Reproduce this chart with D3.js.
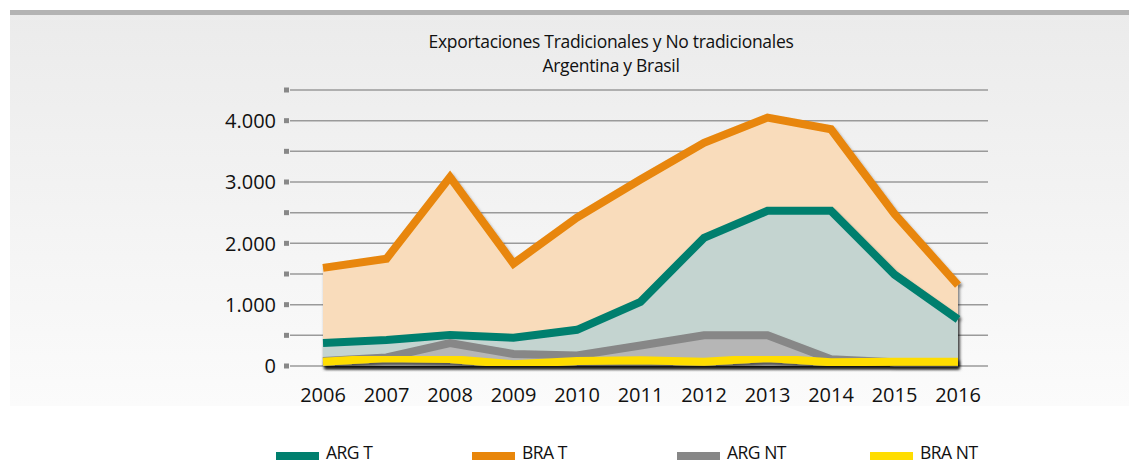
<!DOCTYPE html>
<html>
  <head>
    <meta charset="utf-8" />
    <title>Exportaciones</title>
    <script src="https://d3js.org/d3.v7.min.js"></script>
    <style>
      body { margin: 0; background: white; }
      text { font-family: "Open Sans", sans-serif; fill: #111; }
    </style>
  </head>
  <body>
    <svg id="chart" width="1129" height="465"></svg>
    <script>
    var years = [2006, 2007, 2008, 2009, 2010, 2011, 2012, 2013, 2014, 2015, 2016];
    var braT  = [1600, 1750, 3080, 1670, 2420, 3040, 3640, 4050, 3860, 2480, 1320];
    var argT  = [375, 425, 505, 460, 590, 1045, 2090, 2530, 2530, 1490, 760];
    var argNT = [80, 140, 375, 195, 170, 335, 500, 500, 110, 60, 60];
    var braNT = [70, 130, 115, 30, 80, 95, 70, 130, 60, 70, 70];

    var seriesNames = ["ARG T", "BRA T", "ARG NT", "BRA NT"];
    var lineColors = ["#007f6e", "#e8860a", "#878787", "#ffdd00"];
    var areaColors = ["#c4d4d0", "#f9dcbb", "#b6b6b6", "#ffdd00"];
    var yTicks = [0, 500, 1000, 1500, 2000, 2500, 3000, 3500, 4000, 4500];

    var svg = d3.select("#chart");

    // background panel
    var defs = svg.append("defs");
    var grad = defs.append("linearGradient").attr("id", "bg")
      .attr("x1", 0).attr("y1", 0).attr("x2", 0).attr("y2", 1);
    grad.append("stop").attr("offset", "0%").attr("stop-color", "#ebebeb");
    grad.append("stop").attr("offset", "100%").attr("stop-color", "#fbfbfb");

    var shadow = defs.append("filter").attr("id", "shadow")
      .attr("x", "-5%").attr("y", "-20%").attr("width", "110%").attr("height", "140%");
    shadow.append("feDropShadow").attr("dx", 1.5).attr("dy", 3)
      .attr("stdDeviation", 1.5).attr("flood-color", "#000").attr("flood-opacity", 0.55);

    svg.append("rect").attr("x", 10).attr("y", 10).attr("width", 1119).attr("height", 396)
      .attr("fill", "url(#bg)");
    svg.append("rect").attr("x", 10).attr("y", 10).attr("width", 1119).attr("height", 5)
      .attr("fill", "#b3b3b3");

    // title
    svg.append("text").attr("x", 611).attr("y", 48).attr("text-anchor", "middle")
      .style("font-size", "17.5px").style("letter-spacing", "-0.3px")
      .text("Exportaciones Tradicionales y No tradicionales");
    svg.append("text").attr("x", 611).attr("y", 72).attr("text-anchor", "middle")
      .style("font-size", "17.5px").style("letter-spacing", "-0.3px")
      .text("Argentina y Brasil");

    var x = d3.scaleLinear().domain([2006, 2016]).range([323, 958]);
    var y = d3.scaleLinear().domain([0, 4500]).range([366, 90]);

    var fmt = d3.formatLocale({ decimal: ",", thousands: ".", grouping: [3], currency: ["", ""] }).format(",");

    // gridlines
    var grid = svg.append("g");
    grid.selectAll("line").data(yTicks).enter().append("line")
      .attr("x1", 290).attr("x2", 988)
      .attr("y1", function(d) { return y(d); })
      .attr("y2", function(d) { return y(d); })
      .attr("stroke", "#9a9a9a").attr("stroke-width", 1.5);
    grid.selectAll("rect").data(yTicks).enter().append("rect")
      .attr("x", 284).attr("y", function(d) { return y(d) - 2.5; })
      .attr("width", 5).attr("height", 5).attr("fill", "#888");
    grid.selectAll("text").data(yTicks.filter(function(d) { return d % 1000 == 0; }))
      .enter().append("text")
      .attr("x", 276).attr("y", function(d) { return y(d); })
      .attr("dy", "0.36em").attr("text-anchor", "end")
      .style("font-size", "20px")
      .text(function(d) { return fmt(d); });

    // year labels
    svg.append("g").selectAll("text").data(years).enter().append("text")
      .attr("x", function(d) { return x(d); }).attr("y", 402)
      .attr("text-anchor", "middle").style("font-size", "20px")
      .text(function(d) { return d; });

    var allSeries = [argT, braT, argNT, braNT];
    var drawOrder = [1, 0, 2, 3];

    drawOrder.forEach(function(i) {
      var vals = allSeries[i];
      var pts = years.map(function(yr, j) { return [yr, vals[j]]; });
      var area = d3.area()
        .x(function(d) { return x(d[0]); })
        .y0(y(0))
        .y1(function(d) { return y(d[1]); });
      var line = d3.line()
        .x(function(d) { return x(d[0]); })
        .y(function(d) { return y(d[1]); });
      var g = svg.append("g").attr("filter", "url(#shadow)");
      if (i != 3) {
        g.append("path").attr("d", area(pts)).attr("fill", areaColors[i]);
      }
      g.append("path").attr("d", line(pts))
        .attr("fill", "none")
        .attr("stroke", lineColors[i])
        .attr("stroke-width", 8)
        .attr("stroke-linejoin", "miter");
    });

    // legend
    var legendX = [276, 472, 677, 870];
    var legend = svg.append("g").selectAll("g").data(seriesNames).enter().append("g")
      .attr("transform", function(d, i) { return "translate(" + legendX[i] + ",0)"; });
    legend.append("rect").attr("x", 0).attr("y", 452).attr("width", 43).attr("height", 8)
      .attr("fill", function(d, i) { return lineColors[i]; });
    legend.append("text").attr("x", 50).attr("y", 453)
      .attr("dy", "0.35em")
      .style("font-size", "17.5px").style("letter-spacing", "-0.5px")
      .text(function(d) { return d; });
    </script>
  </body>
</html>
